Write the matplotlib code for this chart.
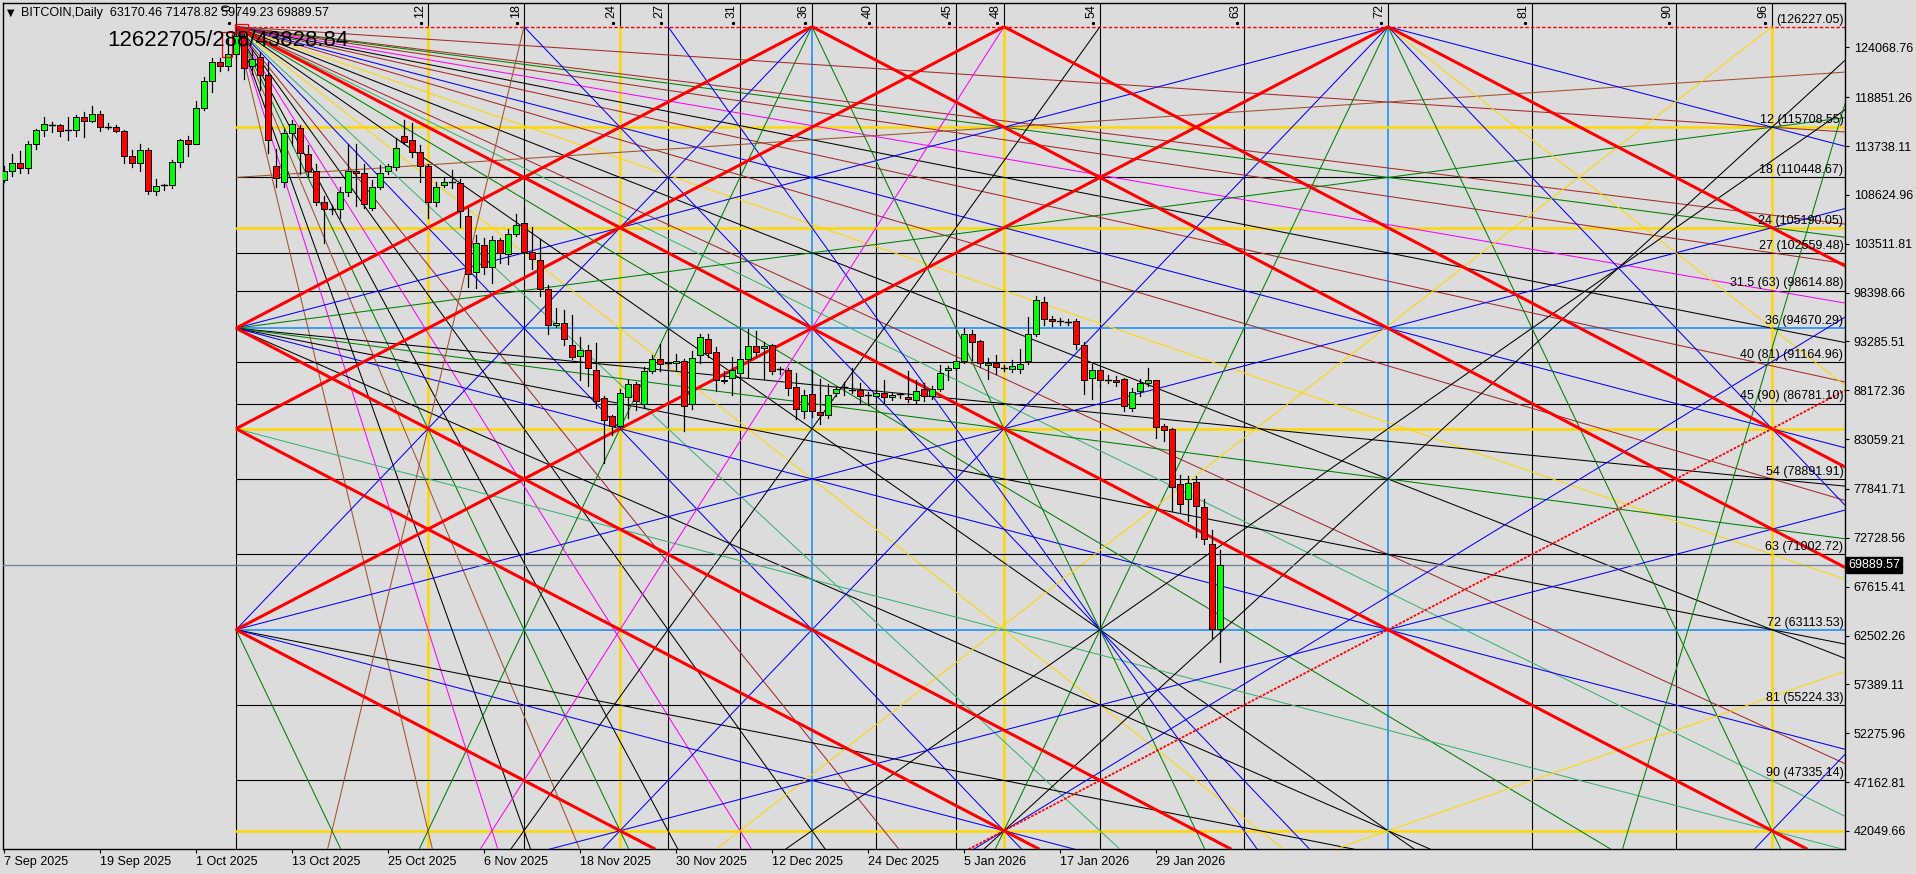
import datetime as dt
import numpy as np
import matplotlib.pyplot as plt
from matplotlib.patches import Rectangle

plt.rcParams['font.family'] = ['Liberation Sans', 'DejaVu Sans']

# ---------------- candles: 7 Sep 2025 .. 6 Feb 2026 (thousand USD) ----------------
start_date = dt.date(2025, 9, 7)
opens = [110.2, 111.1, 112.0, 111.4, 113.9, 115.4, 116.0, 115.9, 115.3, 115.4,
         116.8, 116.4, 117.1, 115.7, 115.7, 115.3, 112.7, 112.0, 113.3, 109.0,
         109.6, 109.7, 112.1, 114.4, 114.0, 117.7, 120.5, 122.5, 122.1, 123.4,
         125.2, 122.1, 123.1, 121.2, 111.6, 110.0, 115.1, 115.6, 112.9, 111.1,
         107.9, 107.1, 107.1, 108.9, 111.1, 110.9, 107.3, 109.5, 111.1, 111.5,
         114.8, 114.4, 113.1, 111.6, 107.9, 109.7, 109.9, 109.9, 106.4, 100.6,
         103.4, 101.1, 103.9, 102.4, 104.5, 105.7, 102.6, 101.8, 98.8, 95.0,
         95.2, 92.9, 91.8, 92.4, 90.3, 87.4, 85.5, 84.4, 87.5, 88.8,
         86.7, 90.2, 91.4, 90.9, 91.0, 91.2, 86.7, 91.9, 93.5, 92.2,
         89.1, 89.5, 90.0, 91.4, 92.8, 92.6, 92.9, 90.3, 90.3, 88.5,
         86.0, 87.8, 85.9, 85.6, 87.9, 88.5, 88.2, 88.2, 87.6, 87.6,
         87.9, 87.5, 87.7, 87.5, 87.2, 88.3, 87.6, 88.3, 90.3, 90.5,
         91.2, 94.1, 93.3, 90.8, 91.0, 90.5, 90.4, 90.4, 91.2, 94.1,
         97.4, 95.6, 95.4, 95.3, 95.4, 92.9, 89.5, 90.3, 89.3, 89.3,
         89.4, 86.3, 88.1, 88.9, 89.2, 84.4, 84.1, 78.4, 76.8, 78.6,
         76.0, 72.1, 63.17046]
highs = [111.6, 112.9, 113.2, 114.3, 115.5, 116.8, 116.3, 116.0, 116.8, 117.0,
         117.3, 117.9, 117.4, 116.1, 115.9, 115.4, 113.3, 113.9, 113.5, 110.3,
         109.8, 112.3, 114.5, 114.8, 118.5, 121.0, 123.0, 122.9, 125.2, 126.22705,
         125.5, 123.9, 123.6, 122.5, 113.4, 115.5, 116.5, 115.9, 113.8, 111.9,
         108.5, 107.6, 109.4, 114.0, 114.0, 111.9, 110.2, 111.8, 111.9, 114.6,
         116.5, 116.1, 113.8, 111.9, 110.0, 110.4, 111.2, 110.3, 107.3, 104.4,
         104.1, 104.3, 104.1, 105.0, 106.6, 107.4, 105.3, 104.0, 99.2, 96.8,
         96.6, 96.0, 93.8, 92.9, 93.1, 87.6, 85.6, 88.3, 89.2, 89.0,
         90.6, 91.9, 93.0, 91.2, 92.0, 91.4, 92.3, 94.1, 94.1, 92.7,
         90.2, 91.7, 92.3, 94.6, 94.4, 93.2, 93.0, 90.6, 90.5, 90.0,
         88.2, 90.3, 89.4, 88.8, 88.5, 89.0, 90.5, 88.9, 88.0, 88.3,
         89.3, 87.9, 87.9, 90.2, 89.2, 88.9, 88.6, 90.8, 90.7, 91.6,
         94.7, 94.5, 93.4, 91.5, 91.9, 90.8, 91.3, 92.5, 95.8, 98.0,
         97.9, 95.9, 95.7, 95.6, 95.6, 93.2, 90.9, 90.5, 89.8, 89.7,
         89.5, 88.4, 89.4, 90.5, 89.3, 84.6, 84.2, 79.3, 79.2, 79.2,
         76.8, 73.6, 71.47882]
lows = [110.0, 110.6, 110.9, 110.9, 113.4, 114.8, 115.2, 114.8, 114.4, 114.8,
        114.7, 116.2, 115.3, 115.5, 115.2, 112.0, 111.5, 111.1, 108.7, 108.6,
        109.1, 109.3, 111.5, 112.7, 113.9, 117.5, 119.4, 121.6, 121.7, 123.0,
        120.8, 121.3, 119.6, 113.0, 109.5, 109.5, 113.8, 110.8, 110.6, 107.6,
        103.6, 106.6, 106.2, 108.5, 107.5, 107.2, 107.0, 109.2, 110.8, 111.2,
        113.9, 112.6, 110.0, 106.2, 107.5, 109.4, 109.3, 105.3, 99.0, 98.9,
        100.3, 99.4, 101.5, 101.4, 104.3, 102.5, 100.9, 98.0, 94.1, 94.8,
        92.9, 91.4, 89.3, 88.6, 86.3, 80.6, 83.5, 84.1, 85.3, 86.1,
        86.3, 90.0, 90.2, 90.3, 90.3, 83.9, 86.2, 91.0, 91.7, 88.1,
        88.9, 87.7, 89.6, 89.6, 91.8, 89.4, 89.9, 89.9, 87.7, 85.2,
        85.3, 85.4, 84.6, 85.3, 87.6, 87.7, 87.9, 86.7, 86.6, 86.9,
        86.8, 87.2, 87.4, 86.9, 86.8, 87.1, 87.3, 88.1, 89.3, 90.3,
        91.0, 91.3, 90.6, 89.4, 89.9, 90.2, 90.1, 90.0, 90.9, 93.9,
        95.0, 94.9, 95.0, 95.0, 92.5, 87.8, 87.3, 88.5, 88.9, 88.6,
        86.0, 86.0, 87.6, 88.6, 83.2, 82.9, 75.5, 75.3, 74.5, 72.8,
        72.1, 62.2, 59.74923]
closes = [111.1, 112.0, 111.4, 113.9, 115.4, 116.0, 115.9, 115.3, 115.4, 116.8,
          116.4, 117.1, 115.7, 115.7, 115.3, 112.7, 112.0, 113.3, 109.0, 109.6,
          109.7, 112.1, 114.4, 114.0, 117.7, 120.5, 122.5, 122.1, 123.4, 125.2,
          121.9, 122.8, 121.2, 114.4, 110.4, 115.1, 116.0, 113.0, 111.1, 107.9,
          107.1, 107.15, 108.9, 111.1, 110.9, 107.7, 109.5, 110.9, 111.6, 113.5,
          114.2, 113.1, 111.6, 107.9, 109.5, 110.0, 109.95, 106.9, 100.3, 103.6,
          101.1, 103.9, 102.5, 104.5, 105.5, 102.6, 101.9, 98.8, 95.0, 95.2,
          93.5, 91.7, 92.4, 90.5, 87.0, 85.1, 84.4, 87.9, 88.8, 87.0,
          90.2, 91.4, 90.9, 91.0, 91.2, 86.5, 91.6, 93.7, 92.1, 89.2,
          89.3, 90.3, 91.4, 92.8, 92.2, 92.8, 90.2, 90.4, 88.4, 86.2,
          87.7, 86.0, 85.6, 87.7, 88.3, 88.55, 88.25, 87.6, 87.65, 87.9,
          87.5, 87.7, 87.75, 87.3, 88.1, 87.6, 88.3, 90.0, 90.5, 91.2,
          94.1, 93.2, 91.0, 91.0, 90.6, 90.55, 90.7, 90.9, 94.1, 97.6,
          95.6, 95.4, 95.45, 95.35, 93.0, 89.3, 90.3, 89.2, 89.3, 89.0,
          86.5, 88.0, 88.9, 89.2, 84.3, 84.0, 78.1, 76.3, 78.5, 76.1,
          72.6, 63.17046, 69.88957]

# ---------------- Gann square settings ----------------
gann_high = 126227.05        # top of the square (6 Oct 2025 high)
gann_day = 29                # bar index of 6 Oct 2025
days_per_unit = 2
units_total = 144

grid_units = [0, 12, 18, 24, 27, 31.5, 36, 40, 45, 48, 54, 63, 72, 81, 90, 96]
grid_colors = ['black', 'gold', 'black', 'gold', 'black', 'black', '#1E90FF', 'black',
               'black', 'gold', 'black', 'black', '#1E90FF', 'black', 'black', 'gold']
top_labels = ['0', '12', '18', '24', '27', '31', '36', '40', '45', '48', '54', '63', '72', '81', '90', '96']

level_names = ['12', '18', '24', '27', '31.5 (63)', '36', '40 (81)', '45 (90)', '54', '63', '72', '81', '90']
level_prices = [115708.55, 110448.67, 105190.05, 102559.48, 98614.88, 94670.29, 91164.96,
                86781.10, 78891.91, 71002.72, 63113.53, 55224.33, 47335.14]

# thick red 1x1 lines: u+v = c and u-v = c
red_up = [36, 48, 72]
red_down = [-72, -48, -36, 0, 36, 48, 72]
red_dotted_up = [144]

# fans: (anchor u, anchor v) -> list of (target u, target v, colour)
origin_fan = [(96, 12, 'brown'), (96, 22.5, 'brown'), (96, 24, 'green'), (96, 27, 'brown'),
              (96, 31.5, 'magenta'), (96, 36, 'black'), (96, 40.5, 'brown'), (96, 48, 'blue'),
              (96, 54, 'brown'), (96, 63, 'gold'), (96, 72, 'black'), (96, 84, 'brown'),
              (96, 90, 'mediumseagreen'),
              (84, 96, 'green'), (72, 96, 'black'), (64, 96, 'gold'), (54, 96, 'mediumseagreen'),
              (48, 96, 'blue'), (40.5, 96, 'brown'), (36, 96, 'black'), (31.5, 96, 'magenta'),
              (27, 96, 'black'), (24, 96, 'green'), (21, 96, 'sienna'), (18, 96, 'black'),
              (16, 96, 'magenta'), (12, 96, 'sienna')]
side_fans = {
    (0, 18): [(96, 6, 'sienna')],
    (0, 36): [(72, 0, 'blue'), (96, 12, 'green'), (96, 54, 'black'), (96, 60, 'green'),
              (96, 72, 'black'), (96, 84, 'blue'), (72, 96, 'black')],
    (0, 48): [(96, 96, 'mediumseagreen')],
    (0, 72): [(36, 0, 'blue'), (96, 24, 'blue'), (64, 96, 'black'), (48, 96, 'blue'),
              (6, 96, 'green')],
    (18, 0): [(6, 96, 'sienna'), (66, 96, 'blue')],
    (27, 0): [(63, 96, 'blue')],
    (36, 0): [(12, 96, 'green'), (60, 96, 'green')],
    (48, 0): [(16, 96, 'magenta')],
    (54, 0): [(18, 96, 'black')],
    (72, 0): [(24, 96, 'blue'), (48, 96, 'green'), (96, 12, 'blue'), (96, 36, 'gold'),
              (96, 48, 'blue'), (96, 96, 'green')],
    (48, 96): [(96, 40, 'blue'), (96, 12, 'black')],
    (36, 96): [(96, 16, 'black')],
    (31.5, 96): [(96, 0, 'gold')],
    (24, 96): [(96, 60, 'blue')],
    (72, 96): [(96, 80, 'gold')],
    (87, 96): [(102, 0, 'green')],
    (96, 96): [(120, 48, 'blue')],
}

price_ticks = [124068.76, 118851.26, 113738.11, 108624.96, 103511.81, 98398.66, 93285.51,
               88172.36, 83059.21, 77841.71, 72728.56, 67615.41, 62502.26, 57389.11,
               52275.96, 47162.81, 42049.66]
last_price = 69889.57

# ---------------- figure ----------------
BG = '#DCDCDC'
W_PX, H_PX = 1916, 874
fig = plt.figure(figsize=(W_PX / 100, H_PX / 100), dpi=100, facecolor=BG)
ax_l, ax_r, ax_t, ax_b = 2.7, 1845.3, 2.7, 849.3
ax = fig.add_axes([ax_l / W_PX, 1 - ax_b / H_PX, (ax_r - ax_l) / W_PX, (ax_b - ax_t) / H_PX],
                  facecolor=BG)

px_per_day = 8.0
x0_px = 4.0
xmin = (ax_l - x0_px) / px_per_day
xmax = (ax_r - x0_px) / px_per_day
usd_per_px = 104.66
ytop = 124068.76 + (47.3 - ax_t) * usd_per_px
ybot = 124068.76 - (ax_b - 47.3) * usd_per_px
ax.set_xlim(xmin, xmax)
ax.set_ylim(ybot, ytop)


def ux(u):
    return gann_day + days_per_unit * np.asarray(u, dtype=float)


def vy(v):
    return gann_high * (1 - np.asarray(v, dtype=float) / units_total)


U_MAX = (xmax - gann_day) / days_per_unit
V_MAX = (1 - ybot / gann_high) * units_total


def clip(u0, v0, u1, v1):
    du, dv = u1 - u0, v1 - v0
    t0, t1 = -1e9, 1e9
    for p, q in ((-du, u0), (du, U_MAX - u0), (-dv, v0), (dv, V_MAX - v0)):
        if p == 0:
            if q < 0:
                return None
        else:
            r = q / p
            if p < 0:
                t0 = max(t0, r)
            else:
                t1 = min(t1, r)
    if t0 >= t1:
        return None
    return [u0 + t0 * du, u0 + t1 * du], [v0 + t0 * dv, v0 + t1 * dv]


def gline(u0, v0, u1, v1, **kw):
    seg = clip(u0, v0, u1, v1)
    if seg is not None:
        ax.plot(ux(seg[0]), vy(seg[1]), solid_capstyle='butt', **kw)


def grid_lw(c):
    return 1.8 if c == 'gold' else (1.2 if c != 'black' else 0.8)


# grid: verticals
for u, c in zip(grid_units, grid_colors):
    ax.plot([ux(u), ux(u)], [vy(0), ytop], color='black', lw=0.8, zorder=2)
    ax.plot([ux(u), ux(u)], [ybot, vy(0)], color=c, lw=grid_lw(c), zorder=2)
# grid: horizontals
for v, c in zip(grid_units[1:], grid_colors[1:]):
    ax.plot([ux(0), xmax], [vy(v), vy(v)], color=c, lw=grid_lw(c), zorder=2)
ax.plot([ux(0), xmax], [vy(0), vy(0)], color='red', lw=1.0, ls=(0, (2.5, 1.5)), zorder=2)

# thin fans
for tu, tv, c in origin_fan:
    gline(0, 0, tu, tv, color=c, lw=0.75, zorder=3)
for (au, av), targets in side_fans.items():
    for tu, tv, c in targets:
        gline(au, av, tu, tv, color=c, lw=0.75, zorder=3)

# thick red 1x1 lines
for c in red_up:
    gline(0, c, c, 0, color='red', lw=2.2, zorder=4)
for c in red_down:
    gline(c, 0, c + 1, 1, color='red', lw=2.2, zorder=4)
for c in red_dotted_up:
    gline(c - 96, 96, 96, c - 96, color='red', lw=1.3, ls=(0, (1.5, 0.8)), zorder=4)

# current price line
ax.axhline(last_price, color='#778899', lw=1.0, zorder=3)

# marker boxes around the top bar
ax.add_patch(Rectangle((gann_day - 0.15, vy(-0.35)), 1.6, vy(0.75) - vy(-0.35),
                       fill=False, ec='red', lw=0.9, zorder=8))
ax.add_patch(Rectangle((gann_day - 1.8, vy(3.6)), 1.35, vy(0.6) - vy(3.6),
                       fill=False, ec='red', lw=0.9, zorder=8))

# candles
n = len(closes)
for i in range(n):
    o, h, l, c = opens[i] * 1000, highs[i] * 1000, lows[i] * 1000, closes[i] * 1000
    ax.plot([i, i], [l, h], color='black', lw=0.9, zorder=6)
    lo, hi = min(o, c), max(o, c)
    if hi - lo < 150:
        ax.plot([i - 0.32, i + 0.32], [c, c], color='black', lw=1.0, zorder=7)
    else:
        ax.add_patch(Rectangle((i - 0.32, lo), 0.64, hi - lo,
                               facecolor='#00FF00' if c > o else '#FF0000',
                               edgecolor='black', lw=0.7, zorder=7))

# level labels on the right
for name, p in zip(level_names, level_prices):
    ax.text(xmax - 0.25, p + 120, f'{name} ({p:.2f})', ha='right', va='bottom',
            fontsize=9, color='black', zorder=9)
ax.text(xmax - 0.25, vy(0) + 120, f'({gann_high:.2f})', ha='right', va='bottom',
        fontsize=9, color='black', zorder=9)

# rotated unit labels at the top
for u, lab in zip(grid_units, top_labels):
    ax.text(ux(u) - 0.3, ytop - 150, lab, rotation=90, ha='right', va='top',
            fontsize=9, color='black', zorder=9)
    ax.plot([ux(u) - 0.9], [vy(-0.45)], marker='s', ms=1.2, color='black', zorder=9)

# header texts
fig.text(7 / W_PX, 1 - 13 / H_PX, '\u25BC', fontsize=7, va='center', ha='left', family='DejaVu Sans')
fig.text(21 / W_PX, 1 - 13 / H_PX,
         'BITCOIN,Daily  {:.2f} {:.2f} {:.2f} {:.2f}'.format(opens[-1] * 1000, highs[-1] * 1000,
                                                            lows[-1] * 1000, closes[-1] * 1000),
         fontsize=9, va='center', ha='left')
fig.text(107 / W_PX, 1 - 40 / H_PX, '12622705/288/43828.84', fontsize=16, va='center', ha='left')

# axes styling
for s in ax.spines.values():
    s.set_color('black')
    s.set_linewidth(1.0)
ax.yaxis.tick_right()
ax.set_yticks(price_ticks)
ax.set_yticklabels([f'{p:.2f}' for p in price_ticks])
ax.tick_params(axis='y', direction='out', length=3, pad=3, labelsize=9, colors='black')
xt = list(range(0, n, 12))
ax.set_xticks(xt)
ax.set_xticklabels([f'{(start_date + dt.timedelta(days=d)).day} '
                    f'{(start_date + dt.timedelta(days=d)).strftime("%b %Y")}' for d in xt])
for t in ax.get_xticklabels():
    t.set_ha('left')
ax.tick_params(axis='x', direction='out', length=3, pad=2, labelsize=9, colors='black')

# current price tag
ax.text(1.0015, last_price, f'{last_price:.2f}', transform=ax.get_yaxis_transform(),
        ha='left', va='center', fontsize=9, color='white', zorder=10,
        bbox=dict(boxstyle='square,pad=0.15', fc='black', ec='black'))

fig.savefig('out.png', dpi=100, facecolor=BG)
